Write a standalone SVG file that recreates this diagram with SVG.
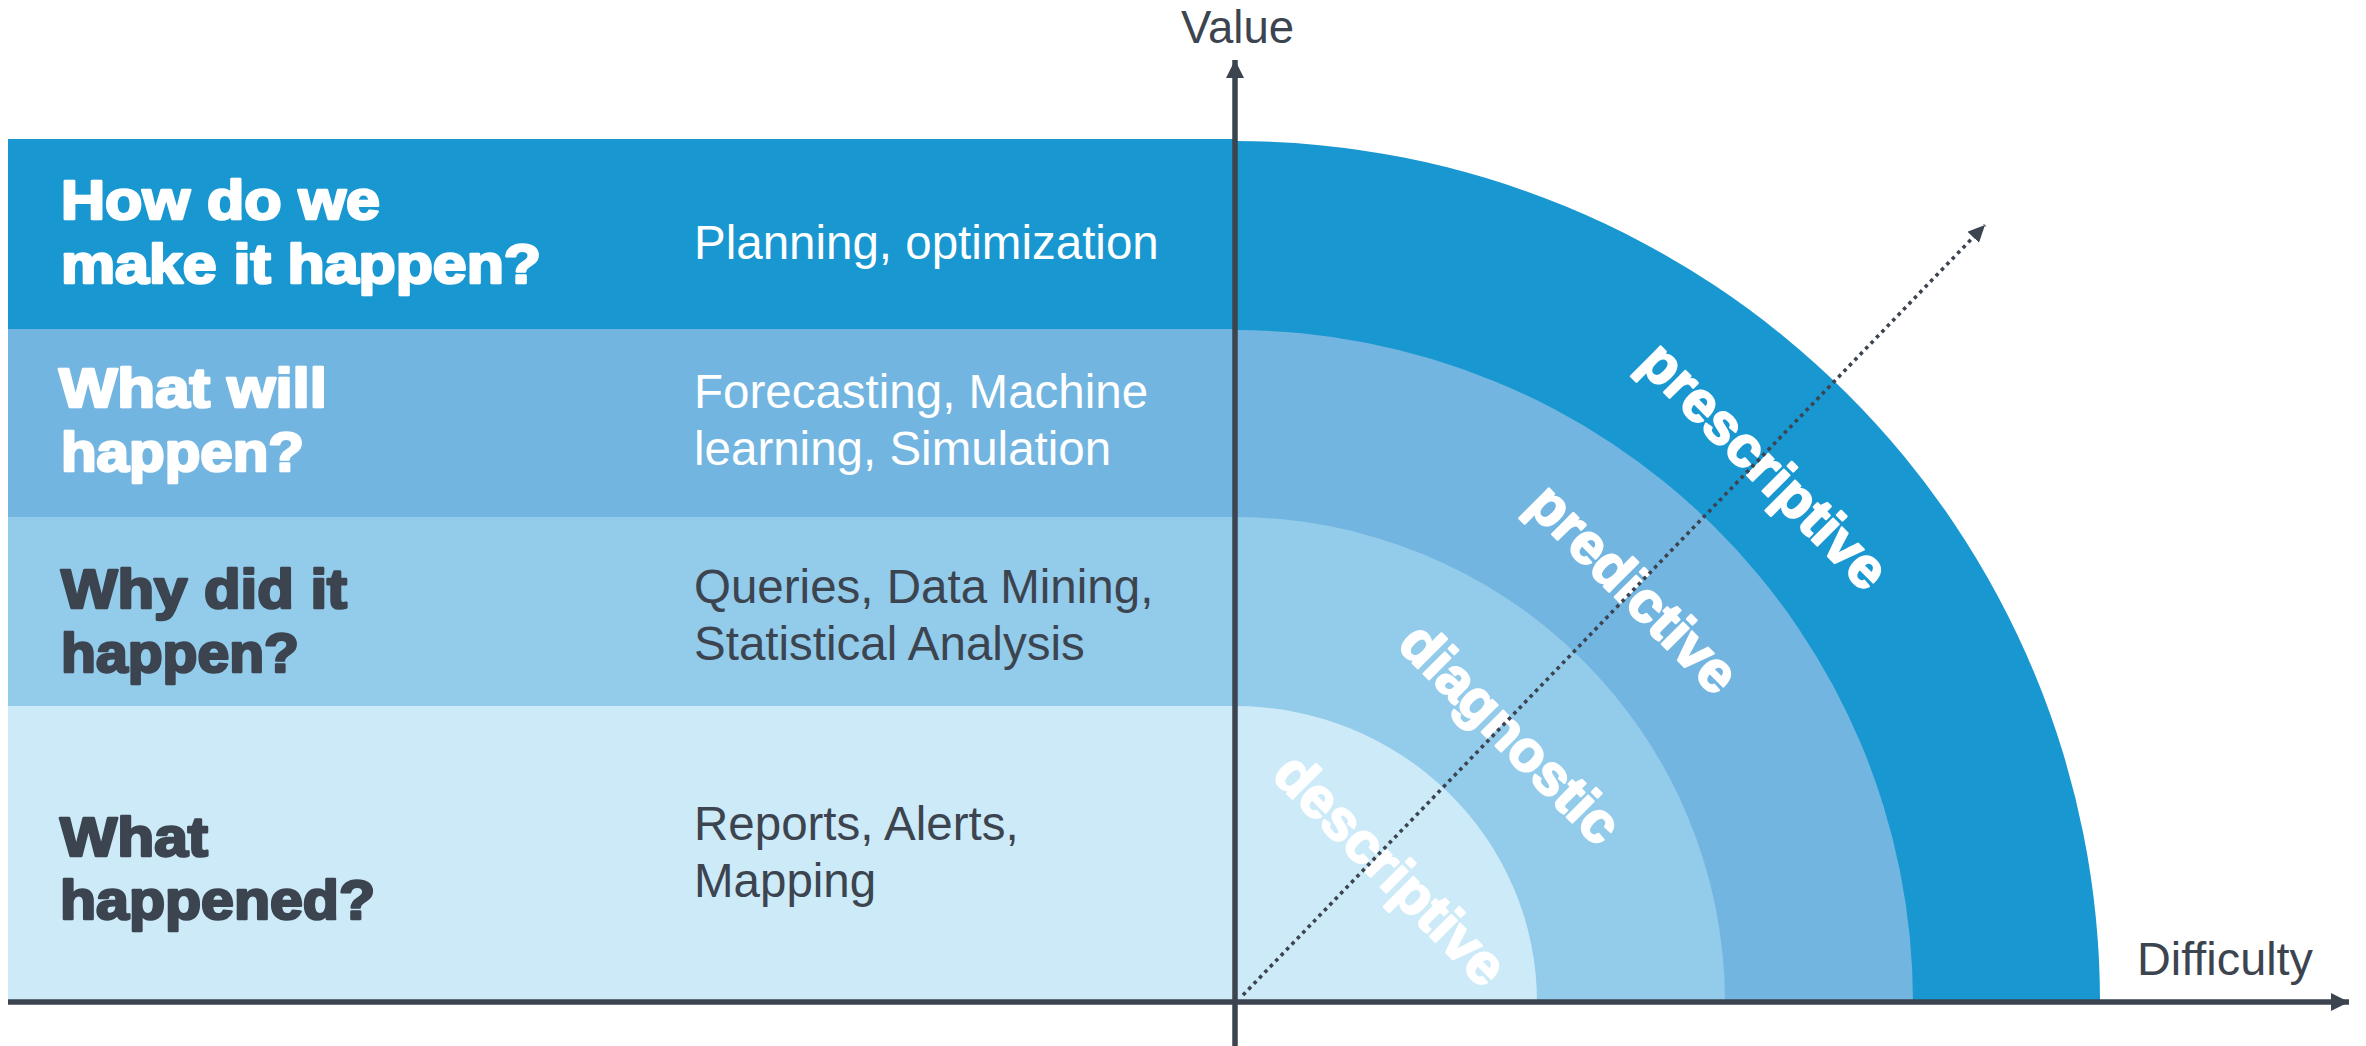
<svg xmlns="http://www.w3.org/2000/svg" width="2366" height="1046" viewBox="0 0 2366 1046">
<style>
text{font-family:"Liberation Sans",Arial,sans-serif}
.h{font-size:55px;font-weight:bold;stroke-width:2.6px;stroke-linejoin:round;paint-order:stroke}
.hw{fill:#ffffff;stroke:#ffffff}
.hd{fill:#3c4450;stroke:#3c4450}
.d{font-size:47.5px}
.dw{fill:#ffffff}
.dd{fill:#3c4450}
.arc{font-size:57px;font-weight:bold;fill:#ffffff;stroke:#ffffff;stroke-width:2.2px;stroke-linejoin:round;text-anchor:middle;dominant-baseline:central}
.ax{font-size:45.5px;fill:#3c4450}
.axis{stroke:#3c4450;stroke-width:5.5;fill:none}
</style>
<defs>
<marker id="ah" markerUnits="userSpaceOnUse" markerWidth="20" markerHeight="20" refX="18" refY="9" orient="auto">
<path d="M0,0 L18,9 L0,18 Z" fill="#3c4450"/>
</marker>
<marker id="ahd" markerUnits="userSpaceOnUse" markerWidth="20" markerHeight="18" refX="17" refY="8" orient="auto">
<path d="M0,0 L17,8 L0,16 Z" fill="#3c4450"/>
</marker>
</defs>

<g id="bands">
<rect id="band-prescriptive" x="8" y="139" width="1227" height="190" fill="#1897d1"/>
<rect id="band-predictive" x="8" y="329" width="1227" height="188" fill="#72b5e0"/>
<rect id="band-diagnostic" x="8" y="517" width="1227" height="189" fill="#93cbea"/>
<rect id="band-descriptive" x="8" y="706" width="1227" height="296" fill="#cceaf7"/>
</g>

<g id="arcs">
<path id="arc-prescriptive" d="M1235,1002 L2100,1002 A865,861 0 0 0 1235,141 Z" fill="#1897d1"/>
<path id="arc-predictive" d="M1235,1002 L1913,1002 A678,672 0 0 0 1235,330 Z" fill="#72b5e0"/>
<path id="arc-diagnostic" d="M1235,1002 L1725,1002 A490,485 0 0 0 1235,517 Z" fill="#93cbea"/>
<path id="arc-descriptive" d="M1235,1002 L1537,1002 A302,296 0 0 0 1235,706 Z" fill="#cceaf7"/>
</g>

<g id="node-prescriptive">
<text class="h hw" x="61" y="219" textLength="319" lengthAdjust="spacingAndGlyphs">How do we</text>
<text class="h hw" x="61" y="283" textLength="480" lengthAdjust="spacingAndGlyphs">make it happen?</text>
<text class="d dw" x="694" y="259">Planning, optimization</text>
</g>

<g id="node-predictive">
<text class="h hw" x="59" y="407" textLength="268" lengthAdjust="spacingAndGlyphs">What will</text>
<text class="h hw" x="61" y="471" textLength="243" lengthAdjust="spacingAndGlyphs">happen?</text>
<text class="d dw" x="694" y="408">Forecasting, Machine</text>
<text class="d dw" x="694" y="465">learning, Simulation</text>
</g>

<g id="node-diagnostic">
<text class="h hd" x="61" y="608" textLength="286" lengthAdjust="spacingAndGlyphs">Why did it</text>
<text class="h hd" x="61" y="672" textLength="238" lengthAdjust="spacingAndGlyphs">happen?</text>
<text class="d dd" x="694" y="603">Queries, Data Mining,</text>
<text class="d dd" x="694" y="660">Statistical Analysis</text>
</g>

<g id="node-descriptive">
<text class="h hd" x="60" y="856" textLength="148" lengthAdjust="spacingAndGlyphs">What</text>
<text class="h hd" x="60" y="919" textLength="315" lengthAdjust="spacingAndGlyphs">happened?</text>
<text class="d dd" x="694" y="840">Reports, Alerts,</text>
<text class="d dd" x="694" y="897">Mapping</text>
</g>

<g id="arc-labels">
<text class="arc" transform="translate(1765,465) rotate(45)">prescriptive</text>
<text class="arc" transform="translate(1634,588) rotate(45)">predictive</text>
<text class="arc" transform="translate(1511,733) rotate(45)">diagnostic</text>
<text class="arc" transform="translate(1391,869) rotate(45)">descriptive</text>
</g>

<g id="connectors">
<line class="axis" x1="8" y1="1002" x2="2349" y2="1002" marker-end="url(#ah)"/>
<line class="axis" x1="1235" y1="1046" x2="1235" y2="60" marker-end="url(#ah)"/>
<line x1="1243" y1="995" x2="1985" y2="225" stroke="#3c4450" stroke-width="3.6" stroke-dasharray="3.6 4.2" marker-end="url(#ahd)"/>
</g>

<g id="axis-labels">
<text class="ax" x="1181" y="43">Value</text>
<text class="ax" x="2137" y="975" textLength="176" lengthAdjust="spacingAndGlyphs">Difficulty</text>
</g>
</svg>
